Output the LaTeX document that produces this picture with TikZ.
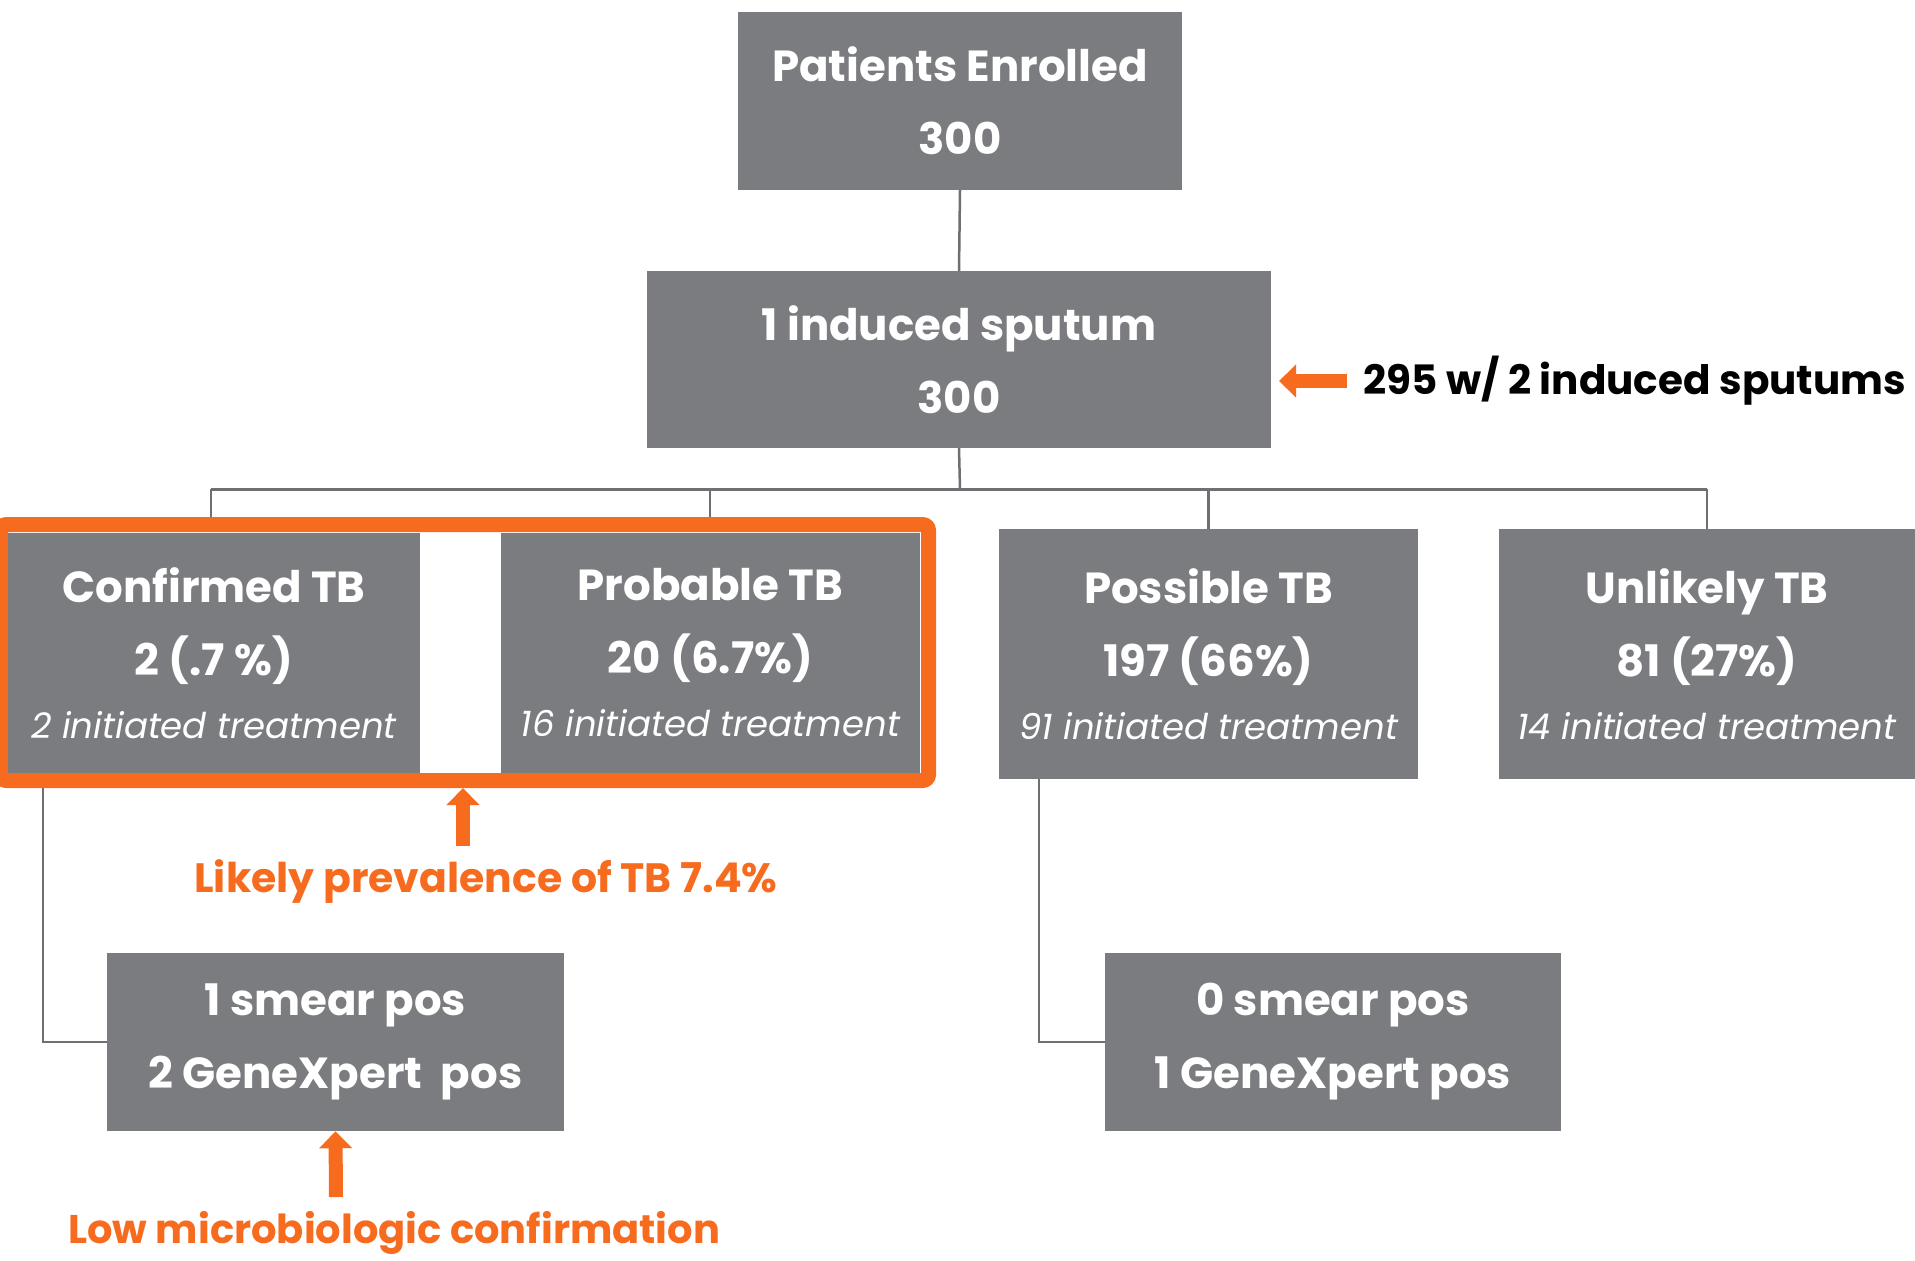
\documentclass[tikz,border=0pt]{standalone}
\usepackage{fontspec}
\setmainfont{Poppins}
\usetikzlibrary{arrows.meta}
\definecolor{boxgray}{HTML}{7B7C80}
\definecolor{linegray}{HTML}{6E6F73}
\definecolor{orng}{HTML}{F76B1E}
\tikzset{
  gbox/.style={fill=boxgray, text=white, align=center, inner sep=0pt},
  bigtxt/.style={font=\fontsize{43.5}{73}\selectfont\bfseries},
  conn/.style={draw=linegray, line width=2.5pt},
  oarrow/.style={draw=orng, line width=14pt, -{Triangle[length=17pt,width=32pt]}},
  otext/.style={text=orng, font=\fontsize{41}{46}\selectfont\bfseries}
}
\newcommand{\itl}[1]{{\fontsize{35.5}{56}\selectfont\mdseries\itshape #1}}
\begin{document}
\begin{tikzpicture}[x=1pt,y=-1pt]
\useasboundingbox (0,0) rectangle (1915,1261);
% orange frame (behind boxes)
\node[draw=orng, line width=15pt, rounded corners=6pt, minimum width=928pt, minimum height=256pt, inner sep=0pt] (frame) at (464.5,652.5) {};
% boxes
\node[gbox,bigtxt,minimum width=444pt,minimum height=178pt] (enrolled) at (960,101) {Patients Enrolled\\300};
\node[gbox,bigtxt,minimum width=624pt,minimum height=177pt] (sputum) at (959,359.5) {1 induced sputum\\300};
\node[gbox,bigtxt,minimum width=412pt,minimum height=240pt] (confirmed) at (214,653) {Confirmed TB\\2 (.7 \%)\\[-10pt]\itl{2 initiated treatment}};
\node[gbox,bigtxt,minimum width=419pt,minimum height=240pt] (probable) at (710.5,653) {Probable TB\\20 (6.7\%)\\[-10pt]\itl{16 initiated treatment}};
\node[gbox,bigtxt,minimum width=419pt,minimum height=250pt] (possible) at (1208.5,654) {Possible TB\\197 (66\%)\\[-10pt]\itl{91 initiated treatment}};
\node[gbox,bigtxt,minimum width=416pt,minimum height=250pt] (unlikely) at (1707,654) {Unlikely TB\\81 (27\%)\\[-10pt]\itl{14 initiated treatment}};
\node[gbox,bigtxt,minimum width=457pt,minimum height=178pt] (smearA) at (335.5,1042) {1 smear pos\\2 GeneXpert~~pos};
\node[gbox,bigtxt,minimum width=456pt,minimum height=178pt] (smearB) at (1333,1042) {0 smear pos\\1 GeneXpert pos};
% connectors
\coordinate (bus) at (960,489);
\coordinate (busL) at (211,489);
\coordinate (busP) at (710,489);
\coordinate (busR) at (1707,489);
\draw[conn] (enrolled.south) -- (sputum.north);
\draw[conn] (sputum.south) -- (bus);
\draw[conn, line width=3pt] (busL) -- (busR);
\draw[conn] (busL) -- (busL |- frame.north);
\draw[conn] (busP) -- (busP |- frame.north);
\draw[conn] (possible.north |- bus) -- (possible.north);
\draw[conn] (busR) -- (unlikely.north);
\coordinate (cA) at (43,788);
\coordinate (cB) at (1039,779);
\draw[conn] (cA) |- (smearA.west);
\draw[conn] (cB) |- (smearB.west);
% annotations
\node[font=\fontsize{40.5}{46}\selectfont\bfseries, anchor=west, inner sep=0pt] (note) at (1363,381) {295 w/ 2 induced sputums};
\coordinate (na) at (1347,381);
\coordinate (nb) at (1279,381);
\draw[oarrow] (na) -- (nb);
\node[otext, inner sep=0pt] (prev) at (486,882) {Likely prevalence of TB 7.4\%};
\coordinate (pa) at (463,846);
\draw[oarrow] (pa) -- (pa |- frame.south);
\node[otext, font=\fontsize{40}{46}\selectfont\bfseries, anchor=west, inner sep=0pt] (low) at (68,1233) {Low microbiologic confirmation};
\coordinate (la) at (336,1197);
\draw[oarrow] (la) -- (smearA.south);
\end{tikzpicture}
\end{document}
